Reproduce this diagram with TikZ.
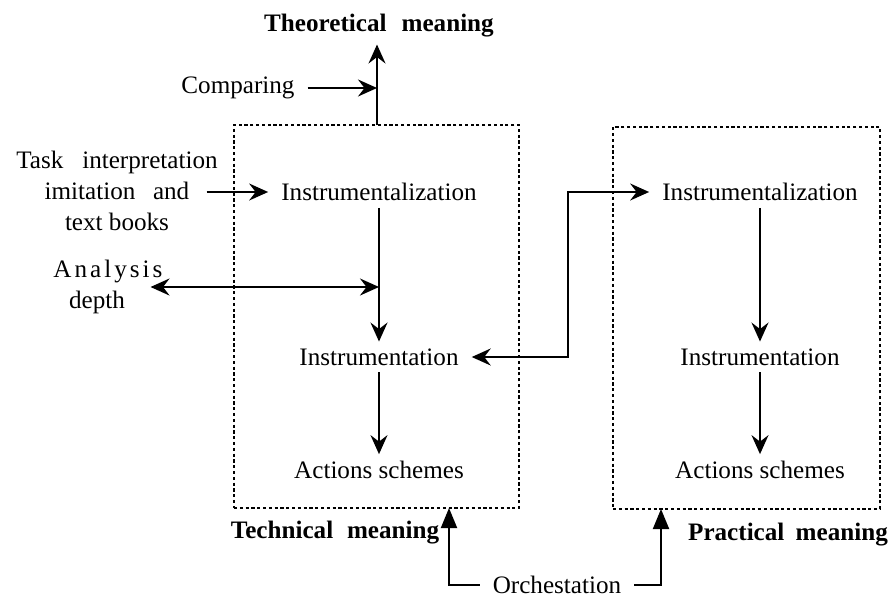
\documentclass[tikz,border=0pt]{standalone}
\usepackage{fontspec}
\setmainfont{Liberation Serif}
\usetikzlibrary{arrows.meta,calc}
\begin{document}
\begin{tikzpicture}[x=0.02cm,y=-0.02cm,
    lbl/.style={font=\fontsize{14.3}{17.6}\selectfont, inner xsep=7.5pt, inner ysep=4pt, outer sep=0pt, align=center},
    blbl/.style={lbl, font=\fontsize{14.3}{17.6}\selectfont\bfseries},
    dotbox/.style={draw, line width=0.9pt, dash pattern=on 1.8pt off 1.5pt, inner sep=0pt, outer sep=0pt},
    arr/.style={line width=1.1pt, -{Stealth[length=3.8mm,width=3.4mm,inset=1.3mm]}},
    darr/.style={line width=1.1pt, {Stealth[length=3.8mm,width=3.4mm,inset=1.3mm]}-{Stealth[length=3.8mm,width=3.4mm,inset=1.3mm]}},
    tarr/.style={line width=1.1pt, -{Triangle[length=4mm,width=3.2mm]}}]
    \useasboundingbox (0,0) rectangle (889,599);
    % the two meaning boxes
    \node[dotbox, minimum width=5.7cm, minimum height=7.66cm] (tbox) at (376.5,316.5) {};
    \node[dotbox, minimum width=5.34cm, minimum height=7.64cm] (pbox) at (746.5,318) {};
    % labels
    \node[blbl] (theo) at (379,26) {Theoretical\hspace{0.6em}meaning};
    \node[lbl] (comp) at (238,88) {Comparing};
    \node[lbl, inner xsep=0pt] (task) at (117,191) {Task\hspace{0.75em}interpretation\\imitation\hspace{0.7em}and\\text books};
    \node[lbl, inner xsep=0pt] (anal) at (108,287) {{\addfontfeature{LetterSpace=12}Analysis}\\depth\hspace*{0.44cm}};
    \node[lbl] (lzn) at (379,192) {Instrumentalization};
    \node[lbl] (ltn) at (379,357) {Instrumentation};
    \node[lbl] (lact) at (379,470) {Actions schemes};
    \node[lbl] (rzn) at (760,192) {Instrumentalization};
    \node[lbl] (rtn) at (760,357) {Instrumentation};
    \node[lbl] (ract) at (760,470) {Actions schemes};
    \node[blbl] (tech) at (335,533) {Technical\hspace{0.55em}meaning};
    \node[blbl] (prac) at (788,535) {Practical\hspace{0.45em}meaning};
    \node[lbl, inner ysep=0.5pt] (orch) at (557,585) {Orchestation};
    % connectors
    \coordinate (tout) at (377,125);
    \draw[arr] (tout) -- (tout |- theo.south);
    \draw[arr] (comp.east) -- (comp.east -| tout);
    \coordinate (tk) at ($(task.east)+(-11,0)$);
    \draw[arr] (tk |- lzn.west) -- (lzn.west);
    \coordinate (ad) at ($(anal.east)+(-12,0)$);
    \draw[darr] (ad) -- (ad -| lzn.south);
    \foreach \c in {l,r}{
    \draw[arr] (\c zn.south) -- (\c tn.north);
    \draw[arr] (\c tn.south) -- (\c act.north);
    }
    \draw[darr] (ltn.east) -- ++(96,0) |- (rzn.west);
    \coordinate (tin) at (449,508);
    \coordinate (pin) at (661,509);
    \draw[tarr] (orch.west) -| (tin);
    \draw[tarr] (orch.east) -| (pin);
\end{tikzpicture}
\end{document}
